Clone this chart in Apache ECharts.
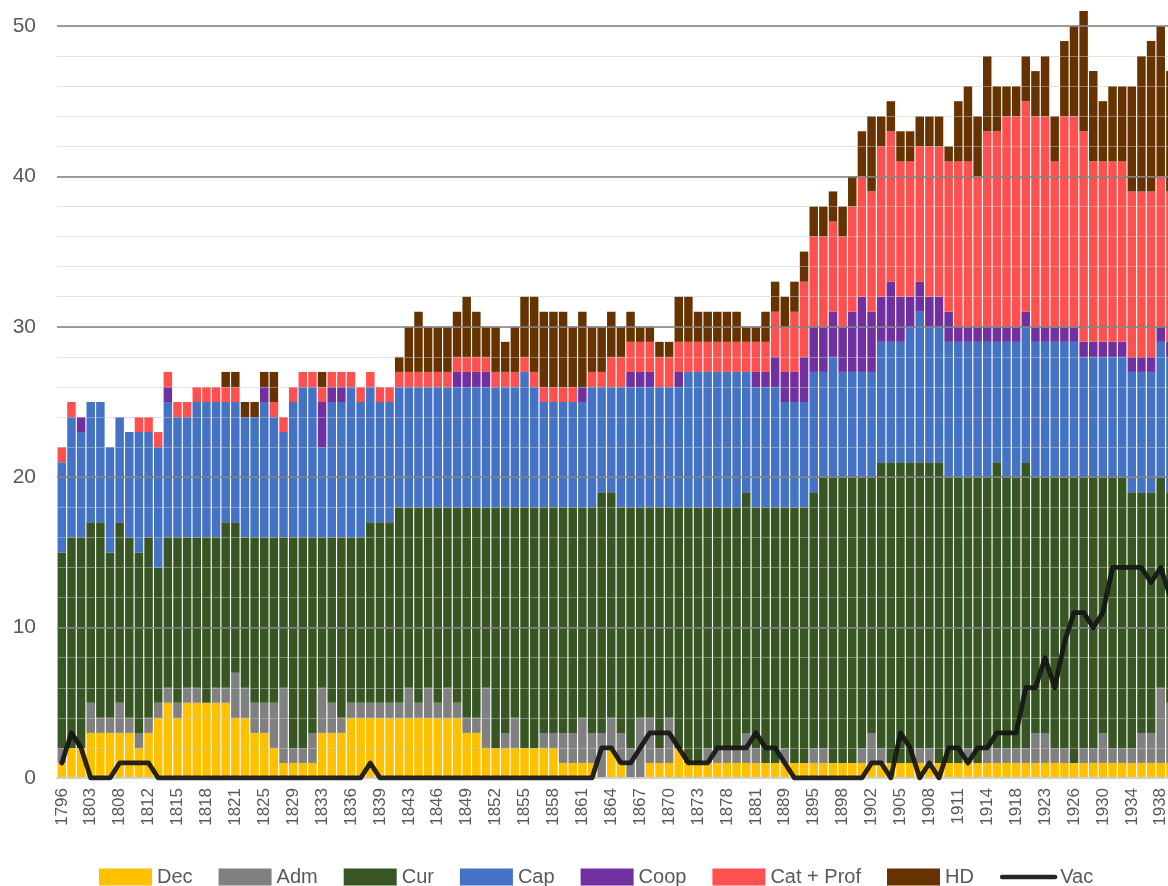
<!DOCTYPE html>
<html>
<head>
<meta charset="utf-8">
<script src="https://cdn.jsdelivr.net/npm/echarts@6/dist/echarts.min.js"></script>
<style>
html,body{margin:0;padding:0;background:#fff;}
#c{width:1168px;height:886px;}
</style>
</head>
<body>
<div id="c"></div>
<script>
const years = ['1796','1799','1801','1803','1804','1806','1808','1809','1811','1812',
 '1813','1814','1815','1816','1817','1818','1819','1820','1821','1823',
 '1824','1825','1827','1828','1829','1831','1832','1833','1834','1835',
 '1836','1837','1838','1839','1841','1842','1843','1844','1845','1846',
 '1847','1848','1849','1850','1851','1852','1853','1854','1855','1856',
 '1857','1858','1859','1860','1861','1862','1863','1864','1865','1866',
 '1867','1868','1869','1870','1871','1872','1873','1875','1877','1878',
 '1879','1880','1881','1883','1886','1889','1891','1893','1895','1896',
 '1897','1898','1899','1901','1902','1903','1904','1905','1906','1907',
 '1908','1909','1910','1911','1912','1913','1914','1915','1917','1918',
 '1920','1921','1923','1924','1925','1926','1927','1929','1930','1931',
 '1933','1934','1935','1937','1938','1939'];

const dec = [1,2,2,3,3,3,3,3,2,3, 4,5,4,5,5,5,5,5,4,4, 3,3,2,1,1,1,1,3,3,3,
 4,4,4,4,4,4,4,4,4,4, 4,4,3,3,2,2,2,2,2,2, 2,2,1,1,1,1,0,2,1,0,
 0,1,1,1,2,1,1,1,1,1, 1,1,1,1,1,1,1,1,1,1, 1,1,1,1,1,1,1,1,1,1,
 1,1,1,1,1,1,1,1,1,1, 1,1,1,1,1,1,1,1,1,1, 1,1,1,1,1,1];

const adm = [1,0,0,2,1,1,2,1,1,1, 1,1,1,1,1,0,1,1,3,2, 2,2,3,5,1,1,2,3,2,1,
 1,1,1,1,1,1,2,1,2,1, 2,1,1,1,4,0,1,2,0,0, 1,1,2,2,3,2,3,2,2,2,
 4,3,1,3,0,0,0,1,1,1, 1,2,1,0,0,1,0,0,1,1, 0,0,0,1,2,1,0,0,0,1,
 1,0,0,0,1,0,1,1,1,1, 1,2,2,1,1,0,1,1,2,1, 1,1,2,2,5,4];

const cur = [13,14,14,12,13,11,12,12,12,12, 9,10,11,10,10,11,10,11,10,10, 11,11,11,10,14,14,13,10,11,12,
 11,11,12,12,12,13,12,13,12,13, 12,13,14,14,12,16,15,14,16,16, 15,15,15,15,14,15,16,15,15,16,
 14,14,16,14,16,17,17,16,16,16, 16,16,16,17,17,16,17,17,17,18, 19,19,19,18,17,19,20,20,20,19,
 19,20,19,19,18,19,18,19,18,18, 19,17,17,18,18,19,18,18,17,18, 18,17,16,16,14,14];

const cap = [6,8,7,8,8,7,7,7,8,7, 8,9,8,8,9,9,9,8,8,8, 8,9,8,7,9,10,10,6,9,9,
 10,9,9,8,8,8,8,8,8,8, 8,8,8,8,8,8,8,8,9,8, 7,7,7,7,7,8,7,7,8,8,
 8,8,8,8,8,9,9,9,9,9, 9,8,8,8,8,7,7,7,8,7, 8,7,7,7,7,8,8,8,9,10,
 9,9,9,9,9,9,9,8,9,9, 9,9,9,9,9,9,8,8,8,8, 8,8,8,8,9,9];

const coop = [0,0,1,0,0,0,0,0,0,0, 0,1,0,0,0,0,0,0,0,0, 0,1,0,0,0,0,0,3,1,1,
 0,0,0,0,0,0,0,0,0,0, 0,1,1,1,1,0,0,0,0,0, 0,0,0,0,1,0,0,0,0,1,
 1,1,0,0,1,0,0,0,0,0, 0,0,1,1,2,2,2,3,3,3, 3,3,4,5,4,3,4,3,2,2,
 2,2,2,1,1,1,1,1,1,1, 1,1,1,1,1,1,1,1,1,1, 1,1,1,1,1,1];

const catProf = [1,1,0,0,0,0,0,0,1,1, 1,1,1,1,1,1,1,1,1,0, 0,0,1,1,1,1,1,1,1,1,
 1,1,1,1,1,1,1,1,1,1, 1,1,1,1,1,1,1,1,1,1, 1,1,1,1,0,1,1,2,2,2,
 2,2,2,2,2,2,2,2,2,2, 2,2,2,2,3,3,4,5,6,6, 6,6,7,8,8,10,10,9,9,9,
 10,10,10,11,11,10,13,13,14,14, 14,14,14,11,14,14,14,12,12,12, 12,11,11,11,10,10];

const hd = [0,0,0,0,0,0,0,0,0,0, 0,0,0,0,0,0,0,1,1,1, 1,1,2,0,0,0,0,1,0,0,
 0,0,0,0,0,1,3,4,3,3, 3,3,4,3,2,3,2,3,4,5, 5,5,5,4,5,3,3,3,2,2,
 1,1,1,1,3,3,2,2,2,2, 2,1,1,2,2,2,2,2,2,2, 2,2,2,3,5,2,2,2,2,2,
 2,2,1,4,5,4,5,3,2,2, 3,3,4,3,5,6,8,6,4,5, 5,7,9,10,10,8];

const vac = [1,3,2,0,0,0,1,1,1,1, 0,0,0,0,0,0,0,0,0,0, 0,0,0,0,0,0,0,0,0,0,
 0,0,1,0,0,0,0,0,0,0, 0,0,0,0,0,0,0,0,0,0, 0,0,0,0,0,0,2,2,1,1,
 2,3,3,3,2,1,1,1,2,2, 2,2,3,2,2,1,0,0,0,0, 0,0,0,0,1,1,0,3,2,0,
 1,0,2,2,1,2,2,3,3,3, 6,6,8,6,9,11,11,10,11,14, 14,14,14,13,14,12];

const barDefs = [
  ['Dec', dec, '#FFC000'],
  ['Adm', adm, '#808080'],
  ['Cur', cur, '#375623'],
  ['Cap', cap, '#4472C4'],
  ['Coop', coop, '#7030A0'],
  ['Cat + Prof', catProf, '#FF5050'],
  ['HD', hd, '#663300']
];

const FONT = 'Liberation Sans';
const chart = echarts.init(document.getElementById('c'), null, {renderer: 'canvas'});

const series = barDefs.map(([name, data, color]) => ({
  name: name,
  type: 'bar',
  stack: 'total',
  data: data,
  barCategoryGap: '12%',
  itemStyle: {color: color},
  emphasis: {disabled: true},
  z: 2
}));
series.push({
  name: 'Vac',
  type: 'line',
  data: vac,
  symbol: 'none',
  showSymbol: false,
  lineStyle: {color: 'rgba(20,20,20,0.92)', width: 4.8, join: 'round', cap: 'round'},
  itemStyle: {color: 'rgba(20,20,20,0.92)'},
  emphasis: {disabled: true},
  z: 10
});

const legendData = barDefs.map(d => ({name: d[0], icon: 'rect'}));
legendData.push({name: 'Vac', itemStyle: {opacity: 0}, lineStyle: {width: 4.5, color: '#262626'}});

chart.setOption({
  animation: false,
  textStyle: {fontFamily: FONT},
  grid: {left: 57, right: -7.2, top: -124.4, bottom: 108, containLabel: false, outerBoundsMode: 'none'},
  xAxis: {
    type: 'category',
    data: years,
    axisTick: {show: false},
    axisLine: {show: true, lineStyle: {color: '#d0d0d0', width: 2}},
    axisLabel: {rotate: 90, interval: 2, fontSize: 17, color: '#595959', margin: 10, fontFamily: FONT},
    z: 6
  },
  yAxis: [
    {
      type: 'value', min: 0, max: 60, interval: 2, position: 'left', z: 5,
      axisLabel: {show: false}, axisLine: {show: false}, axisTick: {show: false},
      splitLine: {show: true, lineStyle: {color: 'rgba(200,200,200,0.5)', width: 1}}
    },
    {
      type: 'value', min: 0, max: 60, interval: 10, position: 'left', z: 5,
      axisLine: {show: false}, axisTick: {show: false},
      axisLabel: {fontSize: 21, color: '#595959', margin: 21, fontFamily: FONT},
      splitLine: {show: true, lineStyle: {color: 'rgba(125,125,125,0.75)', width: 2}}
    }
  ],
  legend: {
    left: 99, top: 867, padding: 0,
    itemWidth: 53, itemHeight: 17, itemGap: 26,
    textStyle: {fontSize: 20, color: '#595959', fontFamily: FONT},
    data: legendData
  },
  series: series
});
</script>
</body>
</html>
